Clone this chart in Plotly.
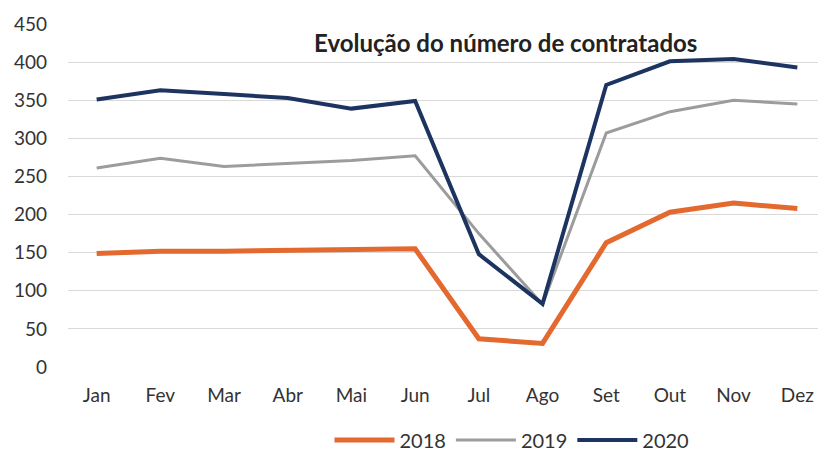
import plotly.graph_objects as go

months = ["Jan", "Fev", "Mar", "Abr", "Mai", "Jun", "Jul", "Ago", "Set", "Out", "Nov", "Dez"]
y2018 = [149, 152, 152, 153, 154, 155, 37, 31, 163, 203, 215, 208]
y2019 = [261, 274, 263, 267, 271, 277, 175, 82, 307, 335, 350, 345]
y2020 = [351, 363, 358, 353, 339, 349, 148, 83, 370, 401, 404, 393]
y_ticks = [0, 50, 100, 150, 200, 250, 300, 350, 400, 450]

FONT = "Lato"
W, H = 818, 456
fig = go.Figure()
fig.add_trace(go.Scatter(x=months, y=y2018, name="2018", mode="lines",
                         line=dict(color="#E4692F", width=5)))
fig.add_trace(go.Scatter(x=months, y=y2019, name="2019", mode="lines",
                         line=dict(color="#9C9C9C", width=3)))
fig.add_trace(go.Scatter(x=months, y=y2020, name="2020", mode="lines",
                         line=dict(color="#1D3461", width=4)))

fig.update_layout(
    width=W, height=H,
    margin=dict(l=60, r=0, t=16, b=97, autoexpand=False),
    paper_bgcolor="white", plot_bgcolor="white",
    font=dict(family=FONT, size=19, color="#333333"),
    showlegend=True,
    legend=dict(orientation="h", xref="container", x=504 / W, xanchor="center",
                yref="container", y=24 / H, yanchor="middle", itemwidth=60,
                font=dict(size=20, color="#333333"), traceorder="normal"),
    annotations=[dict(text="<b>Evolução do número de contratados</b>",
                      xref="x domain", x=(505 - 68) / 758, yref="y domain", y=(367 - 42) / 343,
                      showarrow=False, xanchor="center", yanchor="middle",
                      font=dict(size=24, color="#222222"))],
)
fig.update_xaxes(range=[-0.45, 11.45], showgrid=False, zeroline=False, showline=False,
                 ticks="", automargin=False, ticklabelstandoff=15,
                 tickfont=dict(size=19, color="#333333"))
fig.update_yaxes(range=[0, 450], tickvals=y_ticks, showgrid=True, gridcolor="#D9D9D9",
                 gridwidth=1, zeroline=False, showline=False, ticks="", automargin=False,
                 ticklabelstandoff=20, tickfont=dict(size=19, color="#333333"))

fig.write_html("out.html")
